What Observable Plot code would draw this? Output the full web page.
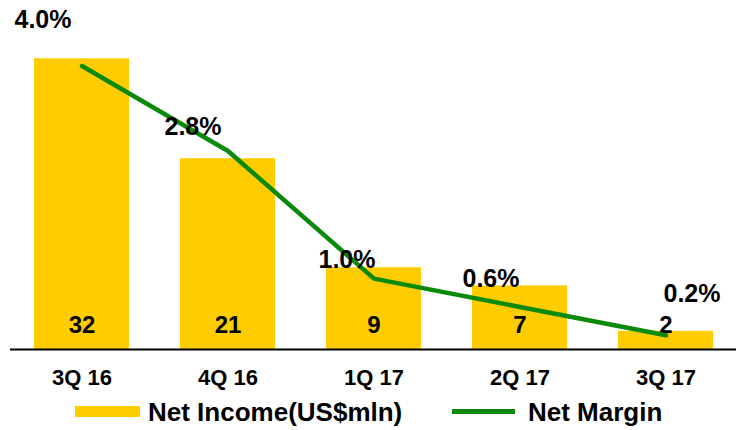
<!DOCTYPE html>
<html>
<head>
<meta charset="utf-8">
<script src="https://cdn.jsdelivr.net/npm/d3@7"></script>
<script src="https://cdn.jsdelivr.net/npm/@observablehq/plot@0.6"></script>
<style>
  html, body { margin: 0; padding: 0; background: #fff; }
  body { width: 736px; height: 430px; overflow: hidden; font-family: "Liberation Sans", Arial, sans-serif; font-weight: bold; }
  #legend { position: relative; height: 38px; width: 736px; }
  .sw { position: absolute; }
  .lt { position: absolute; font-size: 26px; line-height: 26px; color: #000; top: 7px; }
</style>
</head>
<body>
<div id="chart"></div>
<div id="legend">
  <div class="sw" style="left:75px; top:14px; width:65px; height:11px; background:#FFCC00;"></div>
  <div class="lt" style="left:148px;">Net Income(US$mln)</div>
  <div class="sw" style="left:452px; top:17px; width:63px; height:5px; background:#0A8A0A;"></div>
  <div class="lt" style="left:528px;">Net Margin</div>
</div>
<script>
const quarters = ["3Q 16", "4Q 16", "1Q 17", "2Q 17", "3Q 17"];
const netIncome = [32, 21, 9, 7, 2];
const netMargin = [4.0, 2.8, 1.0, 0.6, 0.2];
const marginLabels = ["4.0%", "2.8%", "1.0%", "0.6%", "0.2%"];

// layout-only: per-label offsets for the margin labels (px)
const labelOffsets = [[-39, -46], [-35, -24], [-27, -19], [-29, -28], [26, -41]];
const marginToIncome = 7.8; // secondary-axis factor

const data = quarters.map((q, i) => ({
  q, income: netIncome[i], margin: netMargin[i], mlabel: marginLabels[i], i
}));

const marks = [
  Plot.barY(data, {x: "q", y: "income", fill: "#FFCC00"}),
  Plot.ruleY([0], {stroke: "#000", strokeWidth: 2}),
  Plot.text(data, {x: "q", y: 0, text: d => String(d.income), dy: -24,
    fontSize: 24, fontWeight: "bold", fill: "#000"}),
  Plot.line(data, {x: "q", y: d => d.margin * marginToIncome, stroke: "#0A8A0A", strokeWidth: 4.5}),
  ...labelOffsets.map(([dx, dy], k) => Plot.text(data.filter(d => d.i === k), {
    x: "q", y: d => d.margin * marginToIncome, text: "mlabel", dx, dy,
    fontSize: 25, fontWeight: "bold", fill: "#000"
  }))
];

const chart = Plot.plot({
  width: 736,
  height: 392,
  marginLeft: 10,
  marginRight: 0,
  marginTop: 31,
  marginBottom: 43,
  style: {fontFamily: "'Liberation Sans', Arial, sans-serif", fontWeight: "bold", background: "#fff", overflow: "visible"},
  x: {domain: quarters, paddingInner: 0.35, paddingOuter: 0.153, label: null},
  y: {domain: [0, 35], axis: null},
  marks: [
    ...marks,
    Plot.axisX({tickSize: 0, tickPadding: 20, fontSize: 22, fontWeight: "bold", label: null, fill: "#000"})
  ]
});
document.getElementById("chart").appendChild(chart);
</script>
</body>
</html>
